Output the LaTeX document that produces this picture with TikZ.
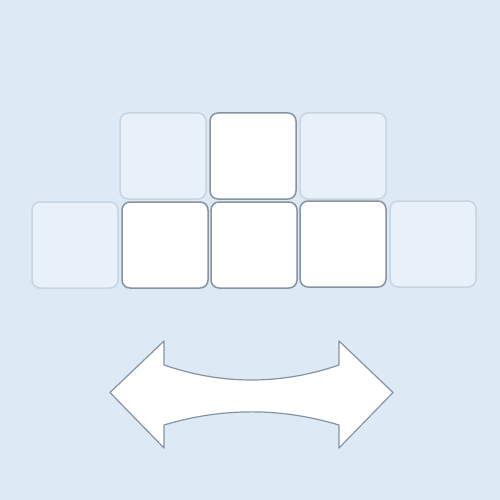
\documentclass[tikz,border=0pt]{standalone}
\usepackage{tikz}
\definecolor{bg}{HTML}{DDE9F5}
\definecolor{lightfill}{HTML}{E8F0F9}
\definecolor{lightedge}{HTML}{C8D5E1}
\definecolor{darkedge}{HTML}{8693A0}
\begin{document}
\begin{tikzpicture}[x=1pt,y=-1pt,
  tile/.style={rounded corners=8pt,line width=1.5pt},
  ghost/.style={tile,fill=lightfill,draw=lightedge},
  solid/.style={tile,fill=white,draw=darkedge},
  bigarrow/.style={fill=white,draw=darkedge,line width=1.2pt,line join=round}]
\fill[bg] (0,0) rectangle (500,500);
\useasboundingbox (0,0) rectangle (500,500);
% top row
\draw[ghost] (120,113) rectangle (206,199);
\draw[solid] (210,113) rectangle (296,199);
\draw[ghost] (300,113) rectangle (386,199);
% bottom row
\draw[ghost] (32,202) rectangle (118,288);
\draw[solid] (122,202) rectangle (208,288);
\draw[solid] (211,202) rectangle (297,288);
\draw[solid] (300,201) rectangle (386,287);
\draw[ghost] (390,201) rectangle (476,287);
% double arrow
\draw[bigarrow] (110,392.5) -- (164,341) -- (164,365)
  .. controls (222,385) and (281,385) .. (339,365)
  -- (339,341) -- (393,392.5) -- (339,448) -- (339,425)
  .. controls (281,407.5) and (222,407.5) .. (164,425)
  -- (164,448) -- cycle;
\end{tikzpicture}
\end{document}
